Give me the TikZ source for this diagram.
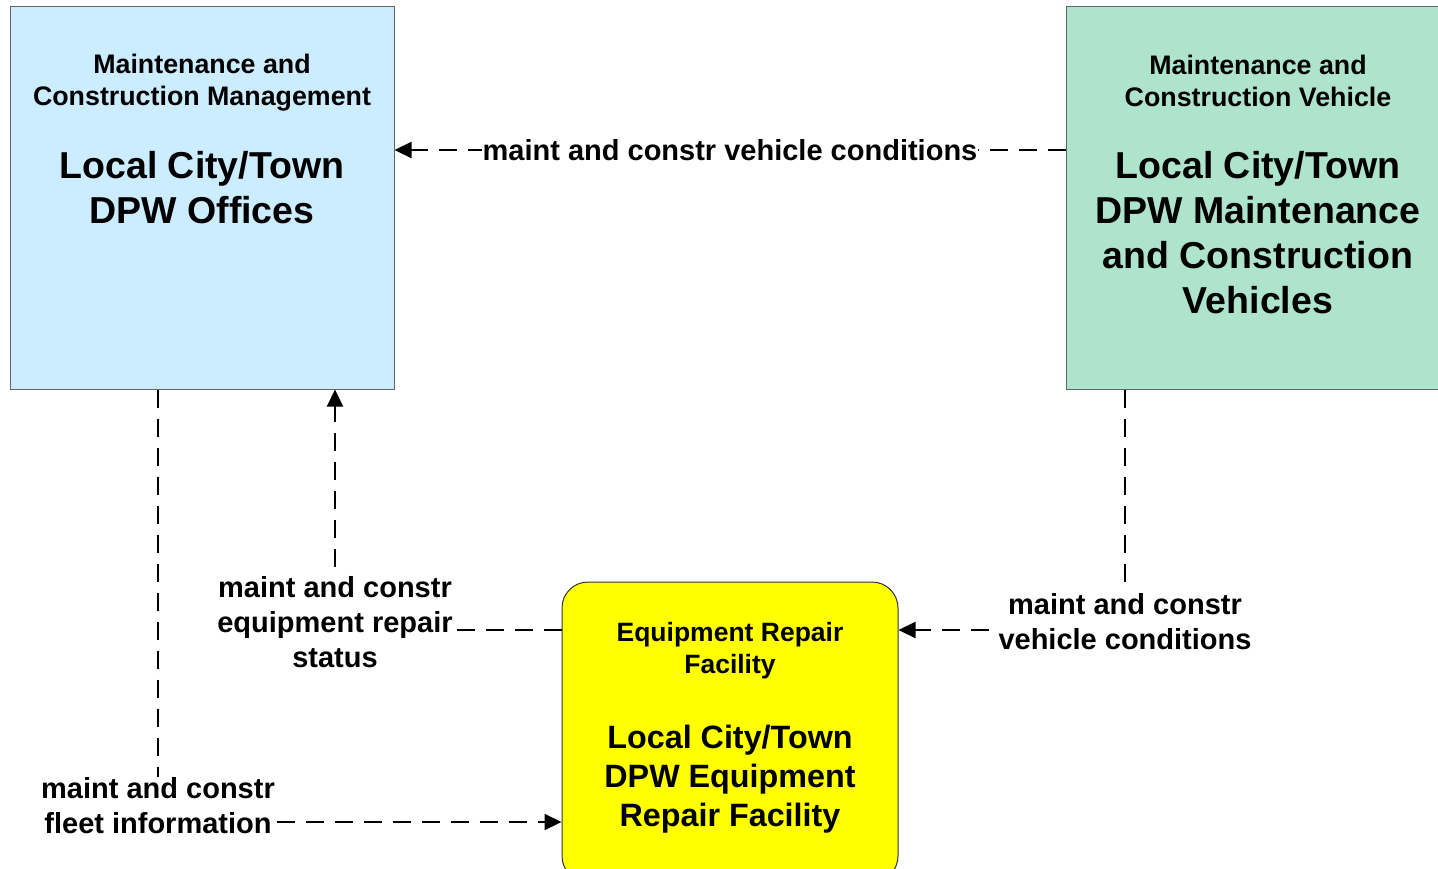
\documentclass[tikz,border=0pt]{standalone}
\usepackage{fontspec}
\setmainfont{Liberation Sans}
\usetikzlibrary{arrows.meta,calc}
\definecolor{boxblue}{RGB}{204,236,255}
\definecolor{boxgreen}{RGB}{174,228,204}
\definecolor{boxyellow}{RGB}{255,255,0}
\definecolor{edgegray}{RGB}{100,100,100}
\tikzset{
  entity/.style={draw=edgegray, line width=1pt, inner sep=0pt},
  title/.style={align=center, font=\bfseries\fontsize{26.8}{32}\selectfont, inner sep=0pt},
  bigname/.style={align=center, font=\bfseries\fontsize{37.5}{45}\selectfont, inner sep=0pt},
  ctitle/.style={align=center, font=\bfseries\fontsize{26.5}{32}\selectfont, inner sep=0pt},
  cname/.style={align=center, font=\bfseries\fontsize{32.3}{39}\selectfont, inner sep=0pt},
  flowlabel/.style={align=center, font=\bfseries\fontsize{29}{35}\selectfont, fill=white, inner sep=1pt},
  flow/.style={line width=2.2pt, dash pattern=on 18pt off 11pt, -{Triangle[length=17pt,width=16pt]}},
}
\begin{document}
\begin{tikzpicture}[x=1pt,y=-1pt]
\useasboundingbox (0,0) rectangle (1438,868);
\clip (0,0) rectangle (1438,868);
% boxes
\node[entity, fill=boxblue, minimum width=384pt, minimum height=383pt] (A) at (202,197.5) {};
\node[entity, fill=boxgreen, minimum width=384pt, minimum height=383pt] (B) at (1258,197.5) {};
\node[entity, draw=black!80, fill=boxyellow, rounded corners=26pt, minimum width=336pt, minimum height=300pt] (C) at (730,732) {};
% box texts
\node[title] (At) at (202,83) {Maintenance and\\Construction Management};
\node[bigname] (An) at (202,188) {Local City/Town\\DPW Offices};
\node[title] (Bt) at (1258,81) {Maintenance and\\Construction Vehicle};
\node[bigname] (Bn) at (1258,233) {Local City/Town\\DPW Maintenance\\and Construction\\Vehicles};
\node[ctitle] (Ct) at (730,651) {Equipment Repair\\Facility};
\node[cname] (Cn) at (730,779) {Local City/Town\\DPW Equipment\\Repair Facility};
% corners
\coordinate (k1) at (730,150);
\coordinate (k2) at (335,630);
\coordinate (k3) at (1125,630);
\coordinate (k4) at (158,822);
% flows
\draw[flow] (B.west |- k1) -- (A.east |- k1);
\draw[flow] (C.west |- k2) -- (k2) -- (A.south -| k2);
\draw[flow] (B.south -| k3) -- (k3) -- (C.east |- k3);
\draw[flow] (A.south -| k4) -- (k4) -- (C.west |- k4);
% labels
\node[flowlabel] (L1) at (730,150) {maint and constr vehicle conditions};
\node[flowlabel] (L2) at (335,622) {maint and constr\\equipment repair\\status};
\node[flowlabel] (L3) at (1125,622) {maint and constr\\vehicle conditions};
\node[flowlabel] (L4) at (158,806) {maint and constr\\fleet information};
\end{tikzpicture}
\end{document}
